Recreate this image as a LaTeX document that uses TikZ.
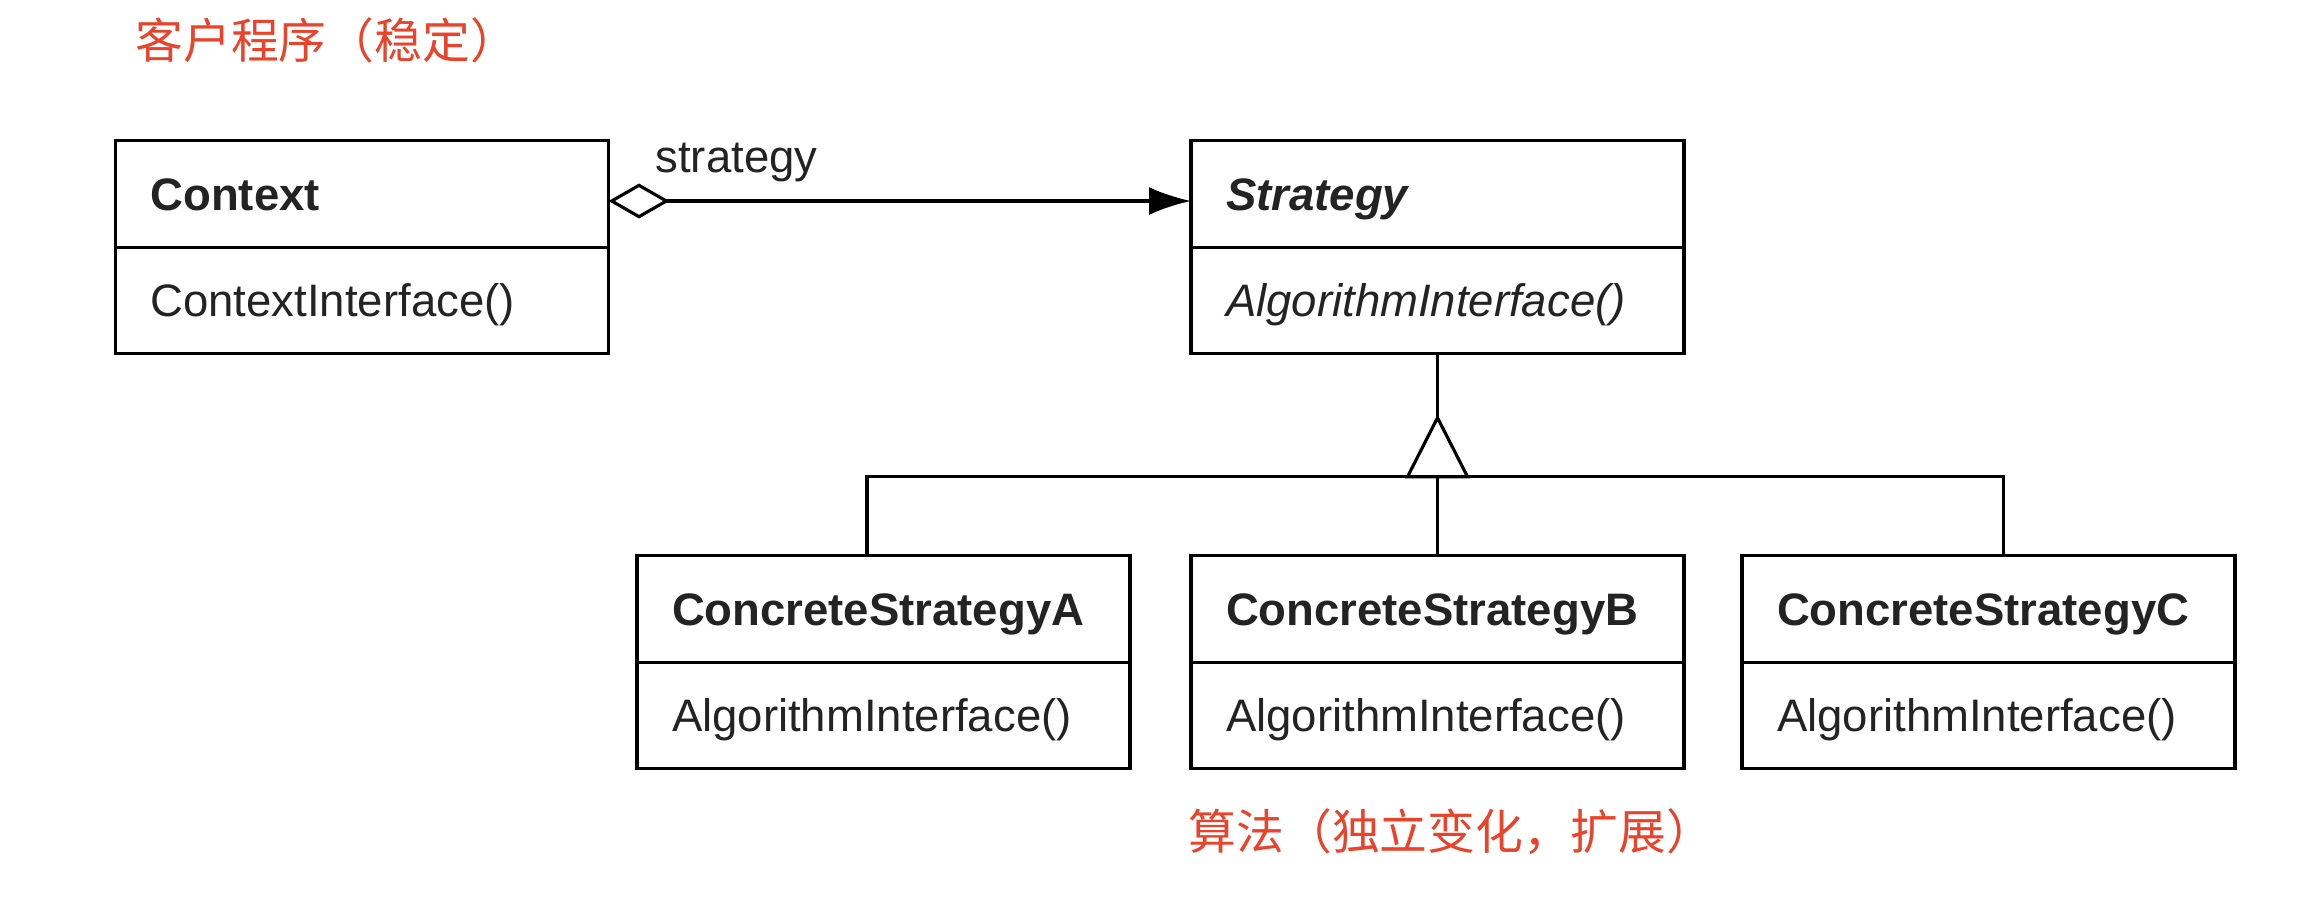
\documentclass[tikz,border=0pt]{standalone}
\usepackage{fontspec}
\setmainfont{Liberation Sans}
\newfontfamily\cjk{Noto Sans CJK SC}
\usetikzlibrary{arrows.meta,positioning,calc}
\definecolor{notered}{RGB}{233,67,43}
\definecolor{umltext}{RGB}{35,35,35}
\tikzset{
  classhead/.style={draw, outer sep=0pt, minimum height=1.065cm, text width=4.23cm,
    inner xsep=0.35cm, align=left, text height=9.3pt, text depth=0pt,
    text=umltext, font=\fontsize{12.95}{15}\selectfont\bfseries},
  classbody/.style={classhead, font=\fontsize{12.95}{15}\selectfont},
  note/.style={anchor=west, inner sep=0pt, text=notered, font=\cjk\fontsize{13.6}{15}\selectfont},
}

\begin{document}
\begin{tikzpicture}[>=Stealth, line width=0.9pt]
  \useasboundingbox (0,0) rectangle (23.22,-9.06);
  \node[note] (client) at (1.34,-0.40) {客户程序（稳定）};
  \node[classhead] (ctx) at (3.62,-1.94) {Context};
  \node[classbody, below=0pt of ctx] (ctxops) {ContextInterface()};
  \node[classhead] (strat) at (14.375,-1.94) {\itshape Strategy};
  \node[classbody, below=0pt of strat] (stratops) {\itshape AlgorithmInterface()};
  \node[classhead, below=2.02cm of stratops] (csb) {ConcreteStrategyB};
  \node[classbody, below=0pt of csb] (csbops) {AlgorithmInterface()};
  \node[classhead, left=0.61cm of csb] (csa) {ConcreteStrategyA};
  \node[classbody, below=0pt of csa] (csaops) {AlgorithmInterface()};
  \node[classhead, right=0.58cm of csb] (csc) {ConcreteStrategyC};
  \node[classbody, below=0pt of csc] (cscops) {AlgorithmInterface()};
  \node[note] (algo) at (11.87,-8.32) {算法（独立变化，扩展）};
  \draw[{Diamond[open,length=6.1mm,width=3.5mm]}-{Latex[length=4.2mm,width=2.8mm]}]
    ([yshift=-0.07cm]ctx.east) -- ([yshift=-0.07cm]strat.west);
  \node[inner sep=0pt, text=umltext, font=\fontsize{12.95}{15}\selectfont] (role) at (7.365,-1.63) {strategy};
  \coordinate (apex) at ($(stratops.south)+(0,-0.64)$);
  \draw (stratops.south) -- (apex);
  \draw (apex) -- ++(-0.3,-0.59) coordinate (triL) -- ++(0.6,0) coordinate (triR) -- cycle;
  \coordinate (bus) at ($(apex)+(0,-0.59)$);
  \draw ([xshift=-0.165cm]csa.north) |- (triL);
  \draw (triR) -| ([xshift=0.15cm]csc.north);
  \draw (bus) -- (csb.north);
\end{tikzpicture}
\end{document}
